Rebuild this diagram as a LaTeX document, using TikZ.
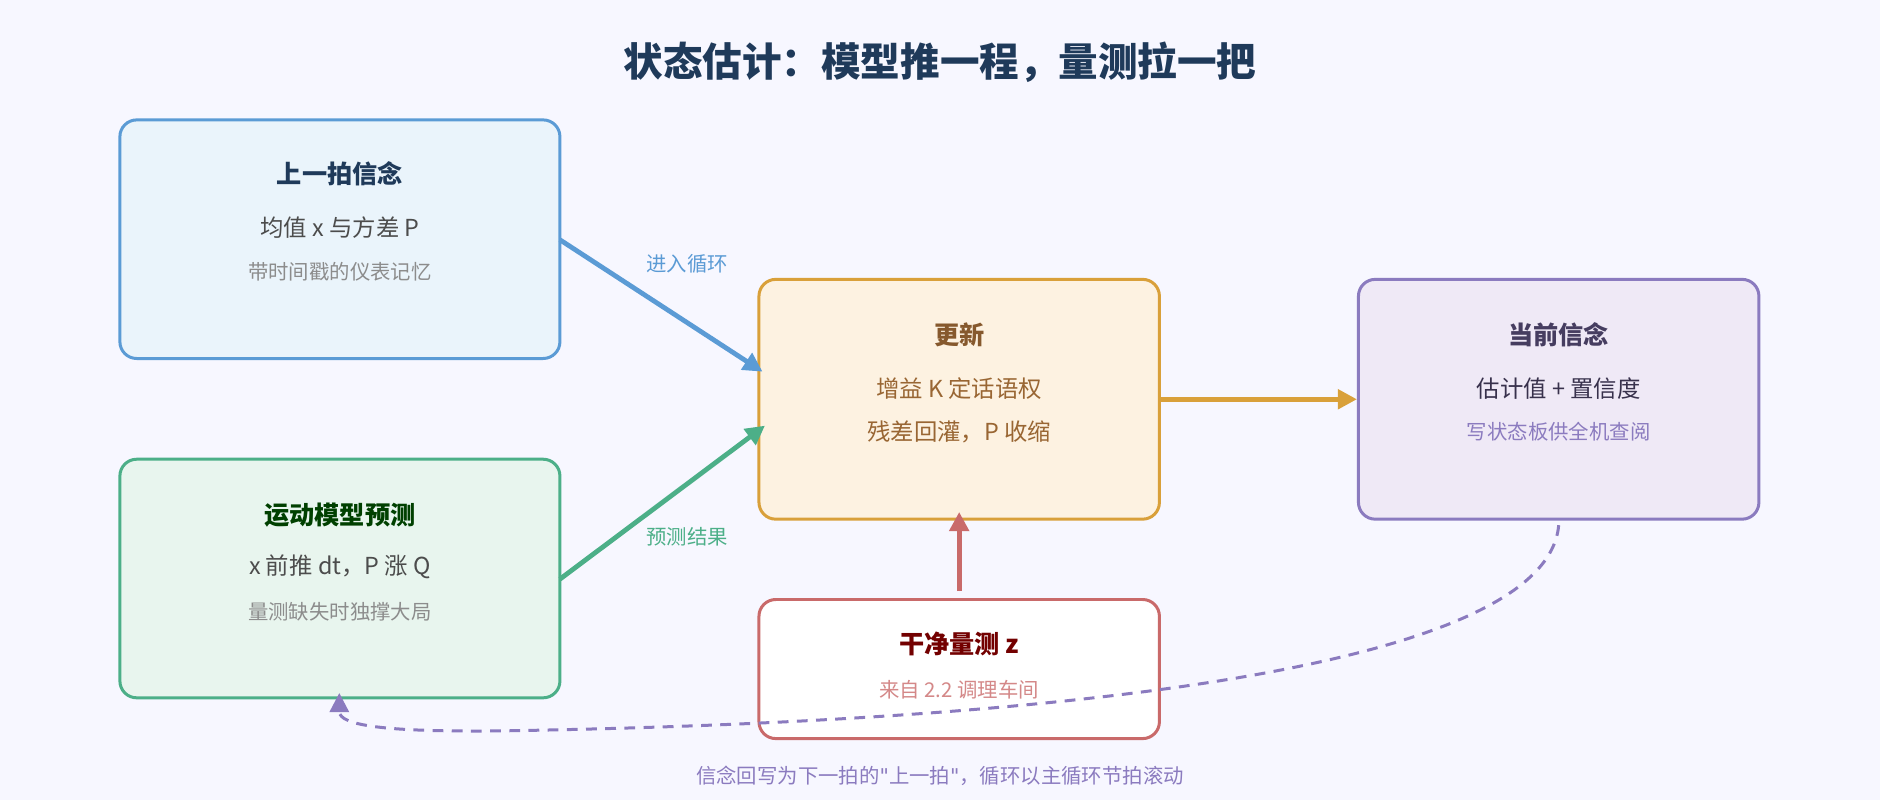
\documentclass[tikz,border=0pt]{standalone}
\usepackage{fontspec}
\setmainfont{Noto Sans CJK SC}
\newfontfamily\qfont{DejaVu Sans}
\usetikzlibrary{arrows.meta}
\definecolor{titlec}{HTML}{1F3A5A}
\definecolor{bluS}{HTML}{5B9BD5}\definecolor{bluF}{HTML}{EAF4FB}
\definecolor{grnS}{HTML}{4CAF88}\definecolor{grnF}{HTML}{E8F5EE}
\definecolor{orgS}{HTML}{D9A03A}\definecolor{orgF}{HTML}{FDF2E1}
\definecolor{purS}{HTML}{8B7BBF}\definecolor{purF}{HTML}{EFE9F6}
\definecolor{redS}{HTML}{C96A6A}
\begin{document}
\begin{tikzpicture}[x=1pt,y=-1pt,
 box/.style={draw,line width=2.5pt,rounded corners=14pt,minimum width=367pt,minimum height=199pt,inner sep=0},
 hd/.style={font=\fontsize{21}{25}\selectfont\bfseries},
 md/.style={font=\fontsize{19.5}{23}\selectfont},
 sm/.style={font=\fontsize{17}{21}\selectfont},
 arr/.style={line width=4pt,-{Triangle[length=16pt,width=16pt]}},
 lab/.style={font=\fontsize{17}{21}\selectfont}]
\fill[white!97!blue] (0,0) rectangle (1568,667);
\node[font=\fontsize{33}{40}\selectfont\bfseries,text=titlec] (t) at (784,52) {状态估计：模型推一程，量测拉一把};
\node[box,draw=bluS,fill=bluF] (b1) at (283.5,199.5) {};
\node[hd,text=titlec] (b1a) at (283.5,145) {上一拍信念};
\node[md,text=black!70] (b1b) at (283.5,190) {均值 x 与方差 P};
\node[sm,text=black!45] (b1c) at (283.5,227) {带时间戳的仪表记忆};
\node[box,draw=grnS,fill=grnF] (b2) at (283.5,482.5) {};
\node[hd,text=green!25!black] (b2a) at (283.5,430) {运动模型预测};
\node[md,text=black!70] (b2b) at (283.5,473) {x 前推 dt，P 涨 Q};
\node[sm,text=black!45] (b2c) at (283.5,510) {量测缺失时独撑大局};
\node[box,draw=orgS,fill=orgF,minimum width=334pt,minimum height=200pt] (u) at (800,333) {};
\node[hd,text=brown!70!black] (ua) at (800,279) {更新};
\node[md,text=brown!80!black] (ub) at (800,324) {增益 K 定话语权};
\node[md,text=brown!80!black] (uc) at (800,360) {残差回灌，P 收缩};
\node[box,draw=purS,fill=purF,minimum width=334pt,minimum height=200pt] (c) at (1300,333) {};
\node[hd,text=purS!50!black] (ca) at (1300,279) {当前信念};
\node[md,text=purS!40!black] (cb) at (1300,324) {估计值 + 置信度};
\node[sm,text=purS] (cc) at (1300,360) {写状态板供全机查阅};
\node[box,draw=redS,fill=white,minimum width=334pt,minimum height=116pt] (m) at (800,558) {};
\node[hd,text=red!45!black] (ma) at (800,537) {干净量测 z};
\node[sm,text=redS!80] (mb) at (800,575) {来自 2.2 调理车间};
\coordinate (p1) at (467,200); \coordinate (p1e) at (636,310);
\coordinate (p2) at (467,483); \coordinate (p2e) at (638,355);
\draw[arr,draw=bluS,fill=bluS] (p1) -- (p1e);
\draw[arr,draw=grnS,fill=grnS] (p2) -- (p2e);
\draw[arr,draw=orgS,fill=orgS] (u.east) -- (c.west);
\coordinate (mt) at (800,493); \coordinate (ub2) at (800,427);
\draw[arr,draw=redS,fill=redS] (mt) -- (ub2);
\coordinate (ds) at (1300,438); \coordinate (de) at (283,578);
\draw[purS,line width=2.5pt,dash pattern=on 9pt off 7pt,-{Triangle[length=16pt,width=16pt]}] (ds) .. controls (1290,555) and (900,600) .. (450,609) .. controls (320,612) and (283,605) .. (de);
\node[lab,text=bluS] (l1) at (573,220) {进入循环};
\node[lab,text=grnS] (l2) at (573,448) {预测结果};
\node[lab,text=purS] (l3) at (784,647) {信念回写为下一拍的{\qfont\symbol{34}}上一拍{\qfont\symbol{34}}，循环以主循环节拍滚动};
\end{tikzpicture}
\end{document}
